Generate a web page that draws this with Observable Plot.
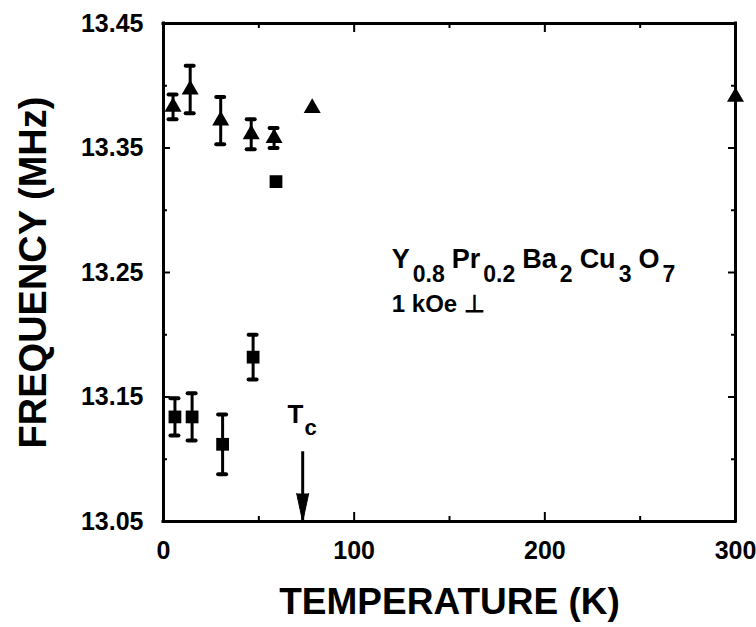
<!DOCTYPE html>
<html><head><meta charset="utf-8">
<script src="https://cdn.jsdelivr.net/npm/d3@7"></script>
<script src="https://cdn.jsdelivr.net/npm/@observablehq/plot@0.6"></script>
<style>
body{margin:0;background:#fff;}
</style></head>
<body><div id="chart"></div>
<script>
// Data
const triT   = [5, 14, 30, 46, 58, 78, 300];
const triF   = [13.383, 13.397, 13.372, 13.361, 13.358, 13.382, 13.391];
const triErr = [0.010, 0.019, 0.019, 0.012, 0.008, 0, 0];
const sqT    = [6, 15, 31, 47, 59];
const sqF    = [13.134, 13.134, 13.112, 13.182, 13.323];
const sqErr  = [0.015, 0.019, 0.024, 0.018, 0];
const xDomain = [0, 300];
const yDomain = [13.05, 13.45];
const xMajor = [0, 100, 200, 300];
const xMinor = [50, 150, 250];
const yMajor = [13.05, 13.15, 13.25, 13.35, 13.45];
const yMinor = [13.10, 13.20, 13.30, 13.40];
const tcT = 73, tcTop = 13.106, tcBottom = 13.05;
const tcLabel = {T: 73, f: 13.129};
const formulaPos = {T: 120, f: 13.253};
const formula = [["Y",0],["0.8",1],["Pr",0],["0.2",1],["Ba",0],["2",1],["Cu",0],["3",1],["O",0],["7",1]];
const fieldPos = {T: 120, f: 13.218};
const fieldText = "1 kOe \u22A5";
const xTitle = "TEMPERATURE (K)";
const yTitle = "FREQUENCY (MHz)";

const W = 756, H = 627, mL = 163, mR = 21, mT = 23, mB = 106;
const innerW = W - mL - mR, innerH = H - mT - mB;
// tick lengths in pixels converted to data units
const kx = (xDomain[1] - xDomain[0]) / innerW, ky = (yDomain[1] - yDomain[0]) / innerH;
const xTickMaj = 9 * ky, xTickMin = 5 * ky, yTickMaj = 7 * kx, yTickMin = 4 * kx;

const tri = triT.map((T,i)=>({T, f:triF[i], e:triErr[i]}));
const sq  = sqT.map((T,i)=>({T, f:sqF[i], e:sqErr[i]}));
const bars = [...tri, ...sq].filter(d=>d.e>0);
const FONT = '"Liberation Sans",Arial,Helvetica,sans-serif';
const K = {stroke: "#000", strokeWidth: 2};

const plot = Plot.plot({
  width: W, height: H,
  marginLeft: mL, marginRight: mR, marginTop: mT, marginBottom: mB,
  style: {fontFamily: FONT, fontWeight: "bold", background: "#fff"},
  x: {domain: xDomain},
  y: {domain: yDomain},
  marks: [
    Plot.axisX(xMajor, {tickSize: 0, tickPadding: 20, fontSize: 25, fontWeight: "bold", label: null, fill: "#000"}),
    Plot.axisY(yMajor, {tickSize: 0, tickPadding: 20, fontSize: 25, fontWeight: "bold", label: null, fill: "#000", tickFormat: d3.format(".2f")}),
    // inward ticks on all four sides
    Plot.ruleX(xMajor, {x: d=>d, y1: yDomain[0], y2: yDomain[0] + xTickMaj, ...K}),
    Plot.ruleX(xMinor, {x: d=>d, y1: yDomain[0], y2: yDomain[0] + xTickMin, ...K}),
    Plot.ruleX(xMajor, {x: d=>d, y1: yDomain[1], y2: yDomain[1] - xTickMaj, ...K}),
    Plot.ruleX(xMinor, {x: d=>d, y1: yDomain[1], y2: yDomain[1] - xTickMin, ...K}),
    Plot.ruleY(yMajor, {y: d=>d, x1: xDomain[0], x2: xDomain[0] + yTickMaj, ...K}),
    Plot.ruleY(yMinor, {y: d=>d, x1: xDomain[0], x2: xDomain[0] + yTickMin, ...K}),
    Plot.ruleY(yMajor, {y: d=>d, x1: xDomain[1], x2: xDomain[1] - yTickMaj, ...K}),
    Plot.ruleY(yMinor, {y: d=>d, x1: xDomain[1], x2: xDomain[1] - yTickMin, ...K}),
    // box
    Plot.ruleX(xDomain, {x: d=>d, y1: yDomain[0], y2: yDomain[1], stroke: "#000", strokeWidth: 3, strokeLinecap: "square"}),
    Plot.ruleY(yDomain, {y: d=>d, x1: xDomain[0], x2: xDomain[1], stroke: "#000", strokeWidth: 3, strokeLinecap: "square"}),
    // error bars with caps
    Plot.ruleX(bars, {x: "T", y1: d=>d.f - d.e, y2: d=>d.f + d.e, strokeWidth: 3, stroke: "#000"}),
    Plot.ruleY(bars, {y: d=>d.f + d.e, x1: "T", x2: "T", insetLeft: -4, insetRight: -4, strokeWidth: 4, strokeLinecap: "round", stroke: "#000"}),
    Plot.ruleY(bars, {y: d=>d.f - d.e, x1: "T", x2: "T", insetLeft: -4, insetRight: -4, strokeWidth: 4, strokeLinecap: "round", stroke: "#000"}),
    // markers
    Plot.dot(tri, {x: "T", y: "f", symbol: "triangle", r: 6.3, fill: "#000", stroke: "none"}),
    Plot.dot(sq, {x: "T", y: "f", symbol: "square", r: 7.2, fill: "#000", stroke: "none"}),
    // Tc arrow
    Plot.ruleX([tcT], {x: d=>d, y1: tcTop, y2: tcBottom, strokeWidth: 3, stroke: "#000"}),
    Plot.vector([tcT], {x: d=>d, y: tcBottom, length: 28, r: 6, shape: "spike", rotate: 180, anchor: "end", fill: "#000", stroke: "#000", strokeWidth: 1}),
    // axis titles
    Plot.text([xTitle], {frameAnchor: "bottom", dy: 92, fontSize: 37, fontWeight: "bold", fill: "#000"}),
    Plot.text([yTitle], {frameAnchor: "left", textAnchor: "middle", dx: -130, rotate: -90, fontSize: 38, fontWeight: "bold", fill: "#000"})
  ]
});

const xs = plot.scale("x"), ys = plot.scale("y");
const svg = d3.select(plot);
// formula annotation with subscripts
const ft = svg.append("text")
  .attr("x", xs.apply(formulaPos.T)).attr("y", ys.apply(formulaPos.f))
  .attr("text-anchor", "start").attr("font-family", FONT)
  .attr("font-size", 27).attr("font-weight", "bold").attr("fill", "#000");
formula.forEach(([s, sub], i) => {
  ft.append("tspan").text(s)
    .attr("font-size", sub ? 23 : 27)
    .attr("dx", i === 0 ? 0 : (sub ? 3 : 7))
    .attr("dy", sub ? 14 : (i === 0 ? 0 : -14));
});
svg.append("text")
  .attr("x", xs.apply(fieldPos.T)).attr("y", ys.apply(fieldPos.f))
  .attr("text-anchor", "start").attr("font-family", FONT)
  .attr("font-size", 24).attr("font-weight", "bold").attr("fill", "#000")
  .text(fieldText);
// Tc label
const tc = svg.append("text")
  .attr("x", xs.apply(tcLabel.T)).attr("y", ys.apply(tcLabel.f))
  .attr("text-anchor", "middle").attr("font-family", FONT)
  .attr("font-size", 26).attr("font-weight", "bold").attr("fill", "#000");
tc.append("tspan").text("T");
tc.append("tspan").text("c").attr("font-size", 22).attr("dx", 1).attr("dy", 12);

document.getElementById("chart").appendChild(plot);
</script></body></html>
